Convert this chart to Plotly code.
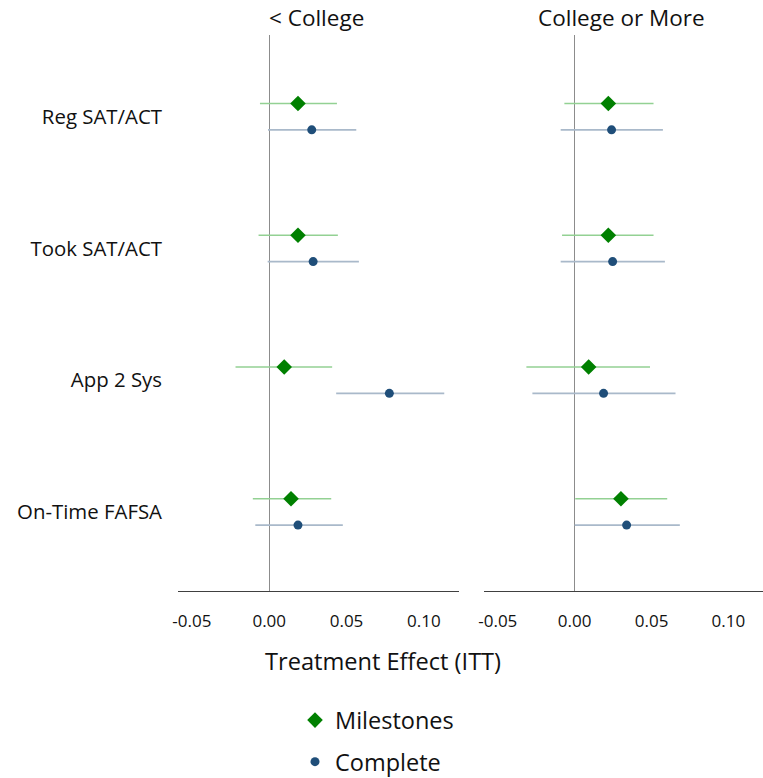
import plotly.graph_objects as go

outcomes = ["Reg SAT/ACT", "Took SAT/ACT", "App 2 Sys", "On-Time FAFSA"]
panels = ["< College", "College or More"]

# Left panel (< College)
ms_est_l = [0.0186, 0.0186, 0.0097, 0.0141]
ms_lo_l = [-0.0060, -0.0069, -0.0218, -0.0106]
ms_hi_l = [0.0438, 0.0444, 0.0407, 0.0401]
cp_est_l = [0.0275, 0.0284, 0.0777, 0.0186]
cp_lo_l = [-0.0008, -0.0010, 0.0433, -0.0090]
cp_hi_l = [0.0563, 0.0580, 0.1132, 0.0476]

# Right panel (College or More)
ms_est_r = [0.0219, 0.0219, 0.0091, 0.0301]
ms_lo_r = [-0.0067, -0.0082, -0.0314, 0.0004]
ms_hi_r = [0.0513, 0.0513, 0.0490, 0.0602]
cp_est_r = [0.0240, 0.0247, 0.0188, 0.0338]
cp_lo_r = [-0.0091, -0.0091, -0.0275, 0.0000]
cp_hi_r = [0.0574, 0.0587, 0.0656, 0.0684]

tick_vals_x = [-0.05, 0.0, 0.05, 0.10]
tick_text_x = ["-0.05", "0.00", "0.05", "0.10"]

FONT = "Open Sans"
ms_color = "#008000"
ms_err = "#93d193"
cp_color = "#1f4e79"
cp_err = "#a9b9ca"
offset = 0.1

fig = go.Figure()

def add(est, lo, hi, ypos, color, ecolor, symbol, size, name, xa, ya, show):
    fig.add_trace(go.Scatter(
        x=est, y=ypos, mode="markers", name=name,
        legendgroup=name, showlegend=show,
        marker=dict(symbol=symbol, size=size, color=color),
        error_x=dict(type="data", symmetric=False,
                     array=[h - e for h, e in zip(hi, est)],
                     arrayminus=[e - l for e, l in zip(est, lo)],
                     color=ecolor, thickness=1.6, width=0),
        xaxis=xa, yaxis=ya, hoverinfo="skip"))

idx = list(range(len(outcomes)))
y_ms = [i - offset for i in idx]
y_cp = [i + offset for i in idx]

add(ms_est_l, ms_lo_l, ms_hi_l, y_ms, ms_color, ms_err, "diamond", 12, "Milestones", "x", "y", True)
add(cp_est_l, cp_lo_l, cp_hi_l, y_cp, cp_color, cp_err, "circle", 9, "Complete", "x", "y", True)
add(ms_est_r, ms_lo_r, ms_hi_r, y_ms, ms_color, ms_err, "diamond", 12, "Milestones", "x2", "y2", False)
add(cp_est_r, cp_lo_r, cp_hi_r, y_cp, cp_color, cp_err, "circle", 9, "Complete", "x2", "y2", False)

xrange = [-0.059, 0.1225]
xcommon = dict(range=xrange, tickvals=tick_vals_x, ticktext=tick_text_x,
               showgrid=False, zeroline=True, zerolinecolor="#8c8c8c", zerolinewidth=1.3,
               showline=True, linecolor="#404040", linewidth=1.2,
               ticks="", ticklabelstandoff=14,
               tickfont=dict(family=FONT, size=17, color="#111"))
ycommon = dict(range=[3.6, -0.62], showgrid=False, zeroline=False, showline=False,
               tickvals=idx, ticktext=outcomes, ticks="")

fig.update_layout(
    width=763, height=778,
    margin=dict(l=178, r=0, t=35, b=187, autoexpand=False),
    plot_bgcolor="white", paper_bgcolor="white",
    font=dict(family=FONT, color="#111"),
    xaxis=dict(domain=[0, 0.4797], **xcommon),
    xaxis2=dict(domain=[0.523, 1.0], anchor="y2", **xcommon),
    yaxis=dict(domain=[0, 1], anchor="x", ticklabelstandoff=15,
               tickfont=dict(family=FONT, size=20.4, color="#111"), **ycommon),
    yaxis2=dict(domain=[0, 1], anchor="x2", showticklabels=False, **ycommon),
    legend=dict(x=0.2, xanchor="left", y=-0.193, yanchor="top",
                font=dict(family=FONT, size=23.5, color="#111"),
                tracegroupgap=8, itemsizing="trace", bgcolor="rgba(0,0,0,0)"),
    showlegend=True,
)

fig.add_annotation(text=panels[0], x=0.236, xref="paper", xanchor="center",
                   y=1.0, yref="paper", yanchor="bottom", yshift=0, showarrow=False,
                   font=dict(family=FONT, size=22.5, color="#111"))
fig.add_annotation(text=panels[1], x=0.7586, xref="paper", xanchor="center",
                   y=1.0, yref="paper", yanchor="bottom", yshift=0, showarrow=False,
                   font=dict(family=FONT, size=22.5, color="#111"))
fig.add_annotation(text="Treatment Effect (ITT)", x=0.35, xref="paper", xanchor="center",
                   y=-0.125, yref="paper", yanchor="middle", showarrow=False,
                   font=dict(family=FONT, size=23.6, color="#111"))

fig.write_html("out.html")
